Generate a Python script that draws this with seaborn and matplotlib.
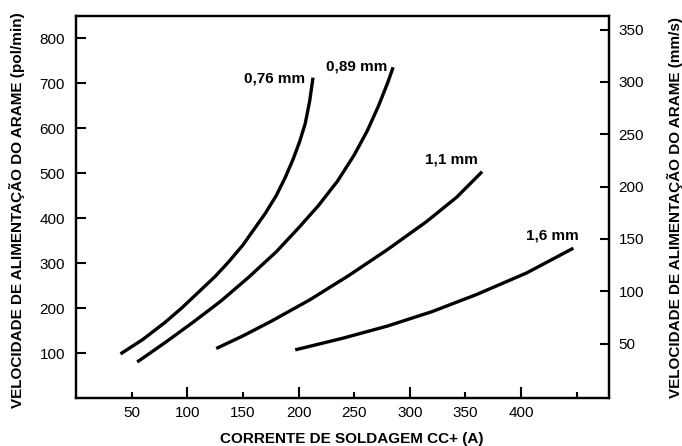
import seaborn as sns
import pandas as pd
import numpy as np
import matplotlib.pyplot as plt
from matplotlib.ticker import FixedLocator, FixedFormatter

# curves: current (A) vs wire feed speed (pol/min)
a_076 = [40, 60, 80, 95, 110, 125, 137, 150, 160, 170, 180, 188, 195, 201, 206, 210, 213]
v_076 = [98, 130, 168, 200, 235, 270, 302, 340, 375, 410, 450, 490, 530, 570, 610, 660, 712]

a_089 = [55, 80, 105, 130, 155, 180, 200, 218, 235, 250, 262, 272, 280, 285]
v_089 = [80, 123, 168, 215, 268, 325, 378, 428, 482, 540, 595, 650, 700, 735]

a_11 = [126, 150, 175, 210, 245, 280, 315, 342, 365]
v_11 = [110, 138, 170, 218, 272, 330, 392, 446, 503]

a_16 = [197, 240, 280, 320, 360, 405, 447]
v_16 = [107, 133, 160, 192, 230, 278, 333]

labels = ['0,76 mm', '0,89 mm', '1,1 mm', '1,6 mm']
# label anchor (right edge) in data coords
lab_a = [206, 280, 361, 452]
lab_v = [711, 736, 531, 362]

x_major = [100, 200, 300, 400]
x_minor = [50, 150, 250, 350, 450]
x_minor_lab = ['50', '150', '250', '350', '']
y_left = [100, 200, 300, 400, 500, 600, 700, 800]
y_right = [50, 100, 150, 200, 250, 300, 350]

df = pd.concat([
    pd.DataFrame({'A': a_076, 'V': v_076, 'fio': labels[0]}),
    pd.DataFrame({'A': a_089, 'V': v_089, 'fio': labels[1]}),
    pd.DataFrame({'A': a_11, 'V': v_11, 'fio': labels[2]}),
    pd.DataFrame({'A': a_16, 'V': v_16, 'fio': labels[3]}),
])

sns.set_style('ticks', rc={'axes.edgecolor': 'black', 'xtick.color': 'black',
                           'ytick.color': 'black', 'text.color': 'black',
                           'axes.labelcolor': 'black'})
plt.rcParams['font.family'] = ['Liberation Sans', 'DejaVu Sans']

fig = plt.figure(figsize=(6.82, 4.46), dpi=100)
ax = fig.add_axes([76 / 682, 1 - 398 / 446, 533 / 682, 382 / 446])

sns.lineplot(data=df, x='A', y='V', hue='fio', units='fio', estimator=None,
             palette=['black'] * 4, linewidth=2.4, legend=False, ax=ax,
             solid_capstyle='butt', solid_joinstyle='round')

for t, a, v in zip(labels, lab_a, lab_v):
    ax.text(a, v, t, ha='right', va='center', fontsize=11, fontweight='bold')

ax.set_xlim(0, 479)
ax.set_ylim(0, 849)

ax.xaxis.set_major_locator(FixedLocator(x_major))
ax.xaxis.set_minor_locator(FixedLocator(x_minor))
ax.xaxis.set_minor_formatter(FixedFormatter(x_minor_lab))
ax.set_yticks(y_left)
ax.tick_params(axis='x', which='major', direction='in', length=8, width=1.5,
               labelsize=11, pad=6)
ax.tick_params(axis='x', which='minor', direction='in', length=4.5, width=1.5,
               labelsize=11, pad=6)
ax.tick_params(axis='y', direction='in', length=7.5, width=1.5, labelsize=11, pad=8)

for s in ax.spines.values():
    s.set_linewidth(1.6)

ax2 = ax.twinx()
ax2.set_ylim(-2, 363)
ax2.set_yticks(y_right)
ax2.tick_params(axis='y', direction='in', length=6.5, width=1.5, labelsize=11, pad=7)
for s in ax2.spines.values():
    s.set_linewidth(1.6)

ax.set_xlabel('CORRENTE DE SOLDAGEM CC+ (A)', fontsize=11, fontweight='bold')
ax.xaxis.set_label_coords(0.518, -0.088)
ax.set_ylabel('VELOCIDADE DE ALIMENTAÇÃO DO ARAME (pol/min)', fontsize=11,
              fontweight='bold')
ax.yaxis.set_label_coords(-0.096, 0.492)
ax2.set_ylabel('VELOCIDADE DE ALIMENTAÇÃO DO ARAME (mm/s)', fontsize=11,
               fontweight='bold')
ax2.yaxis.set_label_coords(1.108, 0.499)

fig.savefig('out.png', dpi=100)
